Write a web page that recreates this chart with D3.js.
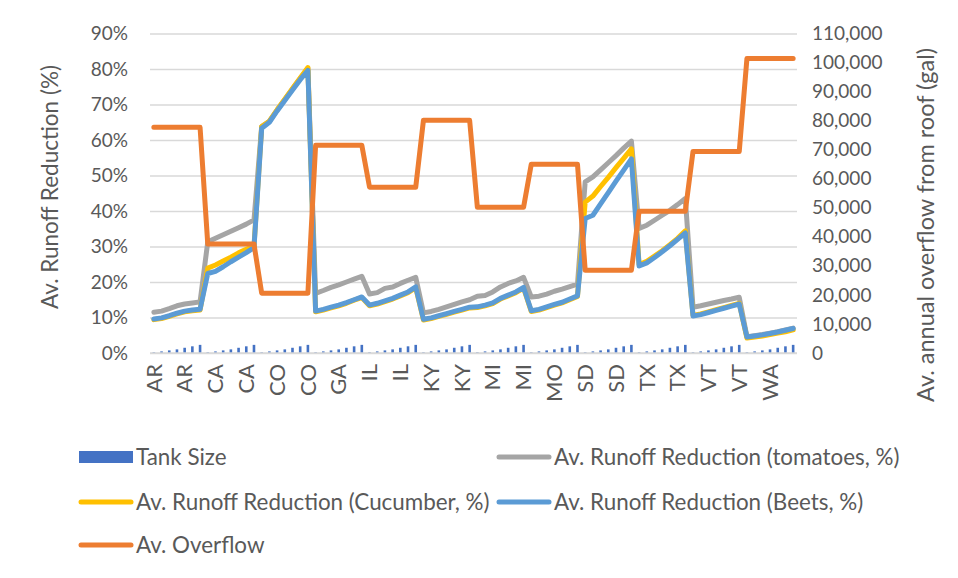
<!DOCTYPE html>
<html><head><meta charset="utf-8">
<script src="https://cdn.jsdelivr.net/npm/d3@7/dist/d3.min.js"></script>
<style>
html,body{margin:0;padding:0;background:#fff;}
svg text{font-family:Lato,"Open Sans",sans-serif;fill:#595959;}
</style></head>
<body><svg id="c" width="958" height="578"></svg>
<script>
const states = ["AR","CA","CO","GA","IL","KY","MI","MO","SD","TX","VT","WA"];
const categories = [
"AR","AR","AR","AR","AR","AR","AR",
"CA","CA","CA","CA","CA","CA","CA",
"CO","CO","CO","CO","CO","CO","CO",
"GA","GA","GA","GA","GA","GA","GA",
"IL","IL","IL","IL","IL","IL","IL",
"KY","KY","KY","KY","KY","KY","KY",
"MI","MI","MI","MI","MI","MI","MI",
"MO","MO","MO","MO","MO","MO","MO",
"SD","SD","SD","SD","SD","SD","SD",
"TX","TX","TX","TX","TX","TX","TX",
"VT","VT","VT","VT","VT","VT","VT",
"WA","WA","WA","WA","WA","WA","WA"];
const tankSize = [
250,550,900,1250,1800,2300,2800,
250,550,900,1250,1800,2300,2800,
250,550,900,1250,1800,2300,2800,
250,550,900,1250,1800,2300,2800,
250,550,900,1250,1800,2300,2800,
250,550,900,1250,1800,2300,2800,
250,550,900,1250,1800,2300,2800,
250,550,900,1250,1800,2300,2800,
250,550,900,1250,1800,2300,2800,
250,550,900,1250,1800,2300,2800,
250,550,900,1250,1800,2300,2800,
250,550,900,1250,1800,2300,2800];
const tomatoes = [
11.5,11.8,12.5,13.3,13.8,14.1,14.4,
31.3,32.3,33.3,34.3,35.3,36.3,37.5,
63.8,65.3,68.4,71.4,74.4,77.3,80.2,
16.8,17.6,18.5,19.2,20.0,20.8,21.6,
16.6,17.0,18.2,18.6,19.6,20.5,21.3,
11.3,11.7,12.3,13.0,13.7,14.4,15.0,
16.0,16.2,17.2,18.6,19.6,20.3,21.3,
15.8,16.0,16.6,17.4,18.0,18.7,19.4,
48.2,49.6,51.6,53.6,55.6,57.7,59.7,
35.1,36.0,37.4,38.8,40.2,41.8,43.5,
12.9,13.3,13.8,14.3,14.8,15.2,15.7,
4.6,4.9,5.2,5.6,6.0,6.5,7.0];
const cucumber = [
9.4,9.7,10.3,11.0,11.6,11.9,12.1,
23.9,24.8,25.9,27.0,28.2,29.2,30.1,
63.8,65.3,68.5,71.5,74.5,77.5,80.4,
11.6,12.1,12.7,13.3,14.0,14.9,15.6,
13.3,13.8,14.5,15.2,16.1,17.0,18.4,
9.3,9.7,10.3,10.9,11.5,12.1,12.7,
12.8,13.3,13.9,15.2,16.1,17.0,18.3,
11.7,12.1,12.8,13.5,14.1,15.0,15.9,
42.5,44.2,46.9,49.5,52.2,54.8,57.5,
24.9,25.8,27.3,28.8,30.5,32.3,34.4,
10.6,11.0,11.6,12.2,12.8,13.4,14.0,
4.2,4.5,4.8,5.2,5.6,6.0,6.5];
const beets = [
9.6,9.9,10.5,11.2,11.8,12.1,12.3,
22.4,23.0,24.3,25.7,27.0,28.3,29.7,
63.3,65.0,68.2,71.1,74.1,77.0,79.6,
11.8,12.3,12.9,13.5,14.2,15.0,15.8,
13.5,14.0,14.7,15.4,16.3,17.2,18.6,
9.5,9.9,10.5,11.1,11.7,12.3,12.9,
13.0,13.5,14.1,15.4,16.3,17.2,18.5,
11.9,12.3,13.0,13.7,14.3,15.2,16.1,
37.9,38.8,42.0,45.2,48.4,51.5,54.7,
24.5,25.4,26.9,28.5,30.2,32.0,33.8,
10.4,10.8,11.4,12.0,12.6,13.2,13.8,
4.5,4.8,5.1,5.5,5.9,6.4,6.9];
const overflow = [
77700,77700,77700,77700,77700,77700,77700,
37500,37500,37500,37500,37500,37500,37500,
20600,20600,20600,20600,20600,20600,20600,
71500,71500,71500,71500,71500,71500,71500,
57100,57100,57100,57100,57100,57100,57100,
80100,80100,80100,80100,80100,80100,80100,
50200,50200,50200,50200,50200,50200,50200,
65000,65000,65000,65000,65000,65000,65000,
28500,28500,28500,28500,28500,28500,28500,
48800,48800,48800,48800,48800,48800,48800,
69400,69400,69400,69400,69400,69400,69400,
101400,101400,101400,101400,101400,101400,101400];
const leftTicks = [0,10,20,30,40,50,60,70,80,90];
const rightTicks = [0,10000,20000,30000,40000,50000,60000,70000,80000,90000,100000,110000];
const seriesNames = ["Tank Size","Av. Runoff Reduction (tomatoes, %)","Av. Runoff Reduction (Cucumber, %)","Av. Runoff Reduction (Beets, %)","Av. Overflow"];
const colors = {tank:"#4472C4",tom:"#A5A5A5",cuc:"#FFC000",beet:"#5B9BD5",over:"#ED7D31"};

const svg = d3.select("#c");
const L=150, R=797, T=33.5, B=353;
const idx = d3.range(categories.length);
const x = d3.scaleBand().domain(idx).range([L,R]).padding(0);
const yL = d3.scaleLinear().domain([0,90]).range([B,T]);
const yR = d3.scaleLinear().domain([0,110000]).range([B,T]);
const cx = i => x(i)+x.bandwidth()/2;

// gridlines + left axis
const gAxL = svg.append("g").attr("transform",`translate(${L},0)`)
  .call(d3.axisLeft(yL).tickValues(leftTicks).tickSize(-(R-L)).tickPadding(22).tickFormat(d=>d+"%"));
gAxL.select(".domain").remove();
gAxL.selectAll(".tick line").attr("stroke","#d9d9d9").attr("stroke-width",1.3);
gAxL.selectAll(".tick text").attr("font-size",19).style("font-family","Lato").attr("fill","#595959");

const gAxR = svg.append("g").attr("transform",`translate(${R},0)`)
  .call(d3.axisRight(yR).tickValues(rightTicks).tickSize(0).tickPadding(15).tickFormat(d3.format(",")));
gAxR.select(".domain").remove();
gAxR.selectAll(".tick text").attr("font-size",19).attr("fill","#595959");

// bars
svg.append("g").selectAll("rect").data(tankSize).join("rect")
  .attr("x",(d,i)=>cx(i)-1.3).attr("width",2.6)
  .attr("y",d=>yR(d)).attr("height",d=>B-yR(d)).attr("fill",colors.tank);

// bottom axis line
svg.append("line").attr("x1",L).attr("x2",R).attr("y1",B).attr("y2",B).attr("stroke","#d9d9d9").attr("stroke-width",1.5);

// x labels
const gX = svg.append("g").attr("transform",`translate(0,${B})`)
  .call(d3.axisBottom(x).tickValues(idx.filter(i=>i%4===0)).tickSize(0).tickFormat(i=>categories[i]));
gX.select(".domain").remove();
gX.selectAll(".tick text").attr("font-size",22).attr("text-anchor","end")
  .attr("transform","rotate(-90)").attr("x",-11).attr("y",0).attr("dy","0.35em");

const lineL = d3.line().x((d,i)=>cx(i)).y(d=>yL(d));
const lineR = d3.line().x((d,i)=>cx(i)).y(d=>yR(d));
[[tomatoes,colors.tom],[cucumber,colors.cuc],[beets,colors.beet]].forEach(([s,c])=>{
  svg.append("path").datum(s).attr("d",lineL).attr("fill","none").attr("stroke",c)
    .attr("stroke-width",5).attr("stroke-linejoin","round").attr("stroke-linecap","round");
});
svg.append("path").datum(overflow).attr("d",lineR).attr("fill","none").attr("stroke",colors.over)
  .attr("stroke-width",5).attr("stroke-linejoin","round").attr("stroke-linecap","round");

// axis titles
svg.append("text").attr("transform","translate(50,187) rotate(-90)").attr("text-anchor","middle")
  .attr("dy","0.35em").attr("font-size",22.5).text("Av. Runoff Reduction (%)");
svg.append("text").attr("transform","translate(926,225) rotate(-90)").attr("text-anchor","middle")
  .attr("dy","0.35em").attr("font-size",23.5).text("Av. annual overflow from roof (gal)");

// legend
const leg = [
 {name:seriesNames[0],c:colors.tank,type:"rect",x:79,y:457},
 {name:seriesNames[1],c:colors.tom,type:"line",x:497,y:457},
 {name:seriesNames[2],c:colors.cuc,type:"line",x:79,y:502},
 {name:seriesNames[3],c:colors.beet,type:"line",x:497,y:502},
 {name:seriesNames[4],c:colors.over,type:"line",x:79,y:545}];
const gl = svg.append("g");
leg.forEach(l=>{
  if(l.type==="rect") gl.append("rect").attr("x",l.x).attr("y",l.y-6).attr("width",54).attr("height",12).attr("fill",l.c);
  else gl.append("line").attr("x1",l.x+2).attr("x2",l.x+52).attr("y1",l.y).attr("y2",l.y).attr("stroke",l.c).attr("stroke-width",5).attr("stroke-linecap","round");
  gl.append("text").attr("x",l.x+57).attr("y",l.y).attr("dy","0.35em").attr("font-size",22.4).text(l.name);
});
</script></body></html>
